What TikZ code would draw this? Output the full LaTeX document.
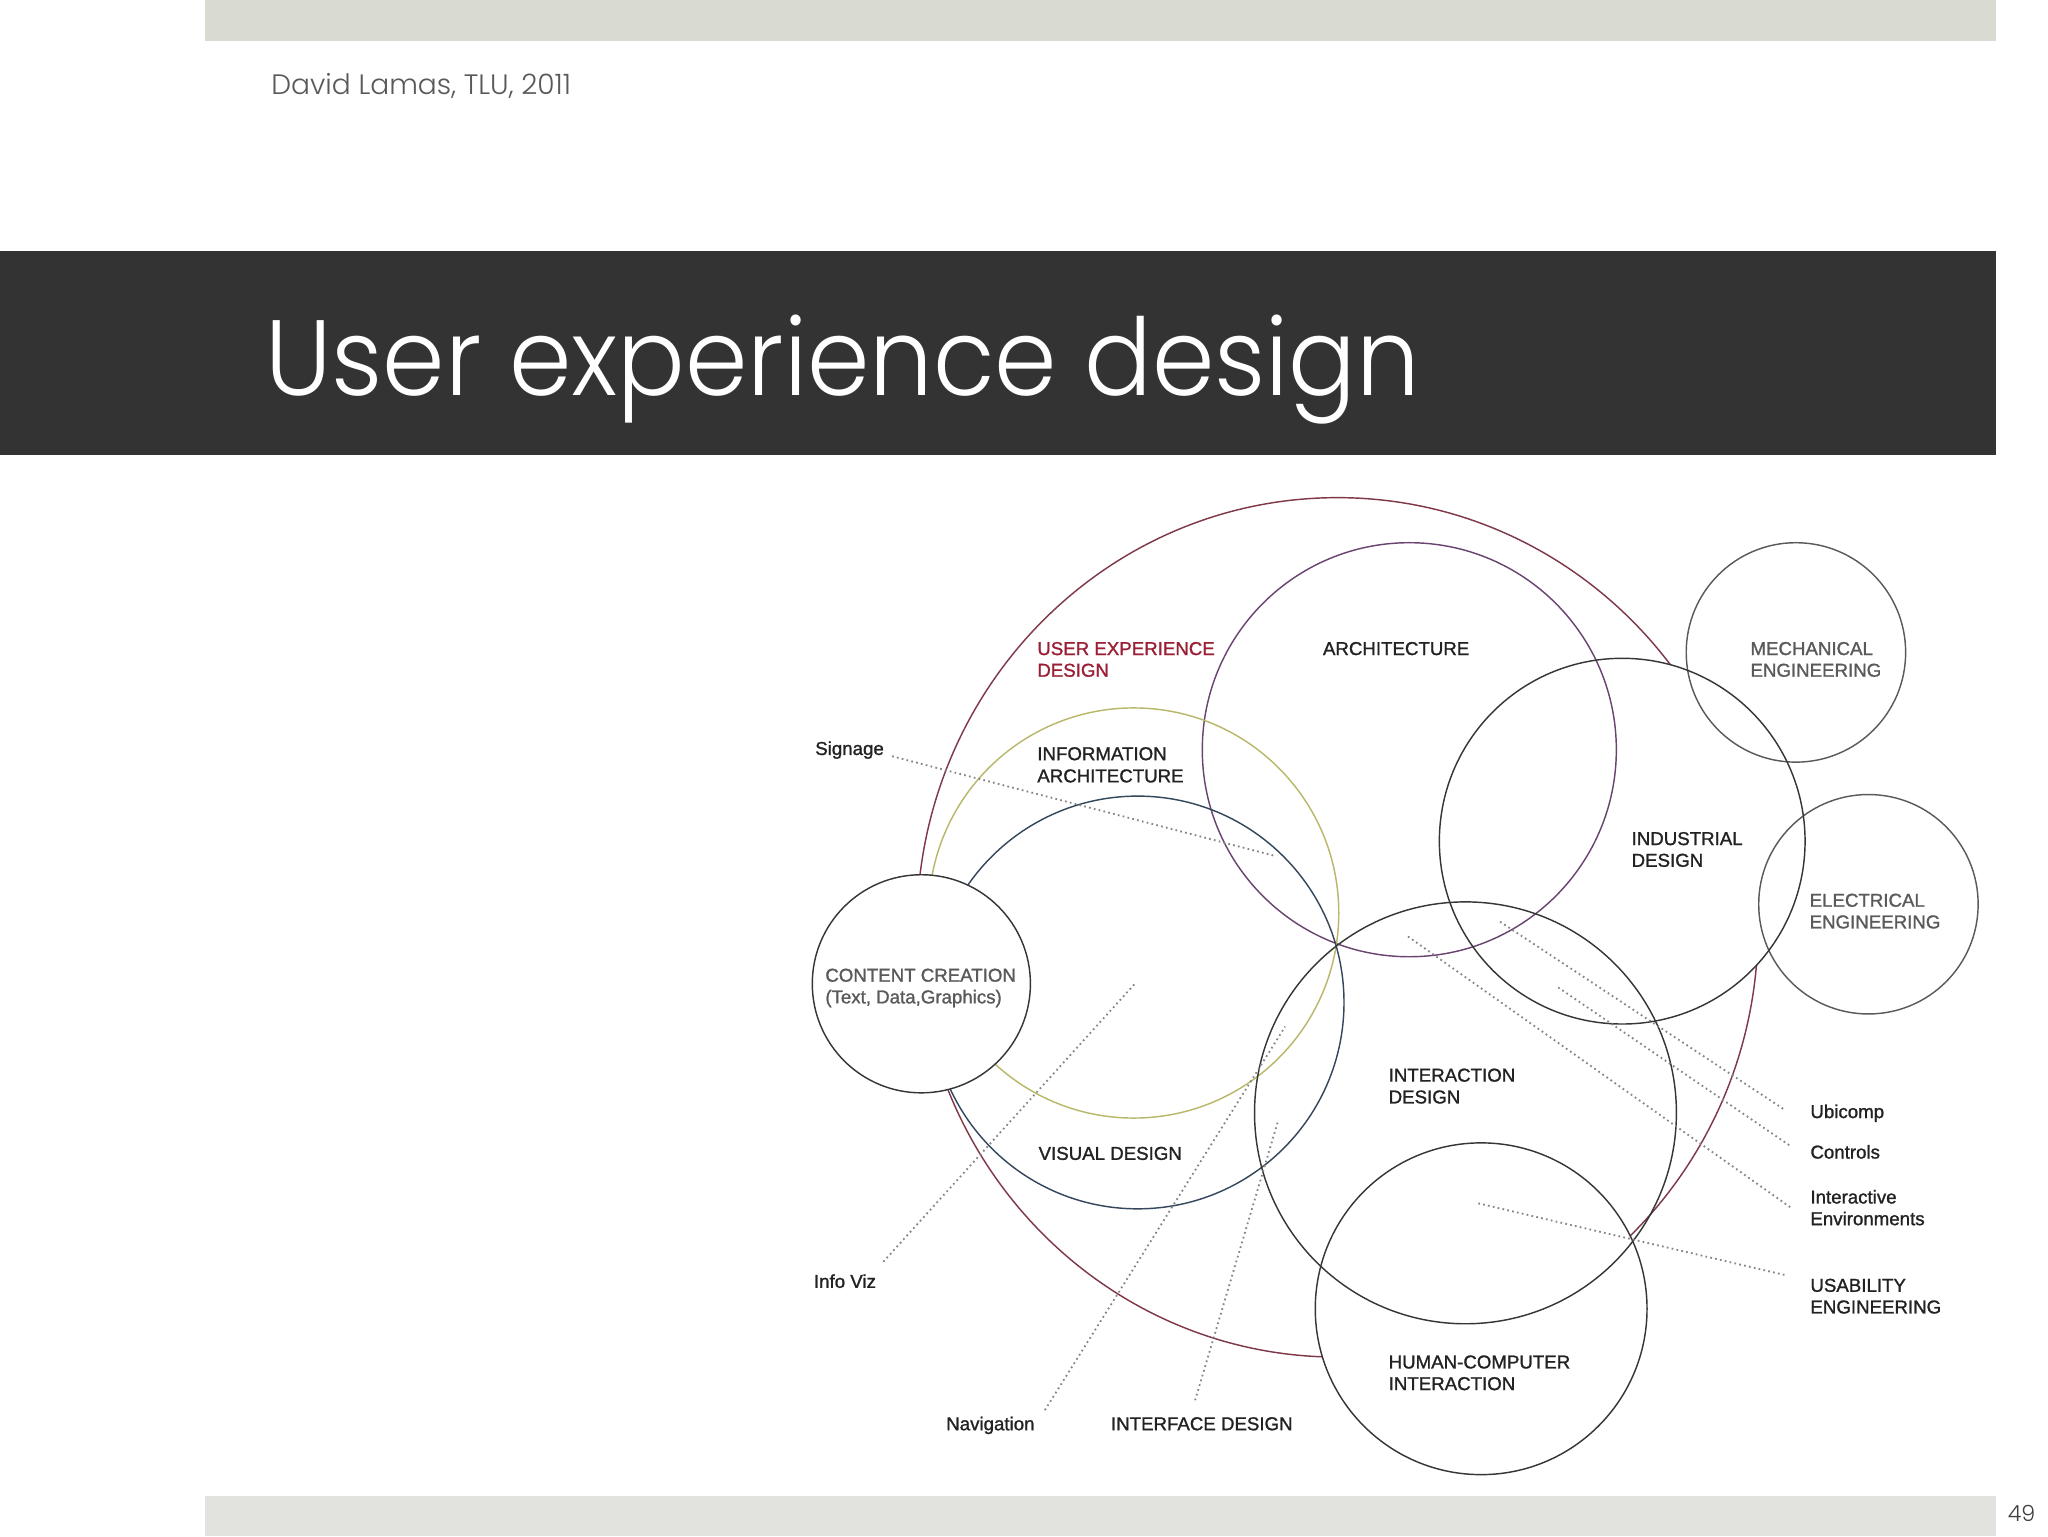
\documentclass[tikz,border=0pt]{standalone}
\usepackage{fontspec}
\setmainfont{Liberation Sans}
\newfontfamily\slidefont{Poppins}[UprightFont={* Light}]
\newfontfamily\labfont{Liberation Sans}[FakeBold=1.2]
\definecolor{topbar}{HTML}{D9DBD3}
\definecolor{botbar}{HTML}{E2E3DF}
\definecolor{band}{HTML}{333333}
\definecolor{uxred}{HTML}{7E3847}
\definecolor{archc}{HTML}{6A4470}
\definecolor{iac}{HTML}{B9B86A}
\definecolor{vdc}{HTML}{34475C}
\definecolor{ink}{HTML}{363636}
\definecolor{engc}{HTML}{5A5A5A}
\definecolor{uxtext}{HTML}{9A1F35}
\definecolor{txt}{HTML}{222222}
\begin{document}
\begin{tikzpicture}[x=1pt,y=-1pt,
  ring/.style={circle, draw=#1, line width=1.1pt, inner sep=0pt, outer sep=0pt},
  blank/.style={circle, fill=white, inner sep=0pt, outer sep=0pt},
  lbl/.style={anchor=base west, inner sep=0pt, text=txt, font=\labfont\fontsize{14.3}{16}\selectfont},
  englbl/.style={lbl, text=engc},
  leader/.style={draw=black!48, line width=1.4pt, dash pattern=on 1.3pt off 2.5pt}]
% page
\fill[white] (0,0) rectangle (1568,1176);
\useasboundingbox (0,0) rectangle (1568,1176);
\fill[topbar] (157,0) rectangle (1528,31.2);
\node[anchor=base west, inner sep=0pt, text=black!65, font=\slidefont\fontsize{21.5}{24}\selectfont] (author) at (207.5,72.2) {David Lamas, TLU, 2011};
\fill[band] (0,192.2) rectangle (1528,348.4);
\node[anchor=base west, inner sep=0pt, text=white, font=\slidefont\fontsize{82}{90}\selectfont] (title) at (203,303) {\scalebox{0.937}[1]{User experience design}};
\fill[botbar] (157,1145.5) rectangle (1528,1176);
\node[anchor=base west, inner sep=0pt, text=black!75, font=\slidefont\fontsize{17}{20}\selectfont] (pnum) at (1537,1165) {49};
% big user experience circle
\draw[uxred, line width=1.1pt] (1024,710) ellipse [x radius=322pt, y radius=329pt];
% opaque discs
\node[blank, minimum size=280pt] (indfill) at (1242,644) {};
\node[blank, minimum size=254pt] (hcifill) at (1134,1002) {};
% circles
\node[ring=archc, minimum size=317pt] (archc) at (1079,574) {};
\node[ring=iac, minimum size=314pt] (iacirc) at (868,699) {};
\node[ring=vdc, minimum size=316pt] (vdcirc) at (871,767.5) {};
\node[ring=engc, minimum size=168pt] (mechc) at (1375,499.5) {};
\node[ring=engc, minimum size=168pt] (elecc) at (1430.5,692.3) {};
\node[ring=ink, minimum size=280pt] (indc) at (1242,644) {};
\node[ring=ink, minimum size=323pt] (ixdc) at (1122,852) {};
\node[ring=ink, minimum size=254pt] (hcic) at (1134,1002) {};
\node[ring=ink, fill=white, minimum size=167pt] (ccc) at (705.4,753.2) {};
% leader end points
\coordinate (sigA) at (683,579);   \coordinate (sigB) at (975,655);
\coordinate (ivA) at (676.3,966);  \coordinate (ivB) at (869,753);
\coordinate (navA) at (800,1079.6); \coordinate (navB) at (983.9,786);
\coordinate (ifdA) at (915,1072);  \coordinate (ifdB) at (978.7,857.6);
\coordinate (ubA) at (1148.5,705.7); \coordinate (ubB) at (1366.7,849.9);
\coordinate (ctA) at (1193,756);   \coordinate (ctB) at (1371.7,878);
\coordinate (ieA) at (1078,717);   \coordinate (ieB) at (1371.7,925);
\coordinate (usA) at (1131.8,921.3); \coordinate (usB) at (1366.7,976.2);
\draw[leader] (sigA) -- (sigB);
\draw[leader] (ivA) -- (ivB);
\draw[leader] (navA) -- (navB);
\draw[leader] (ifdA) -- (ifdB);
\draw[leader] (ubA) -- (ubB);
\draw[leader] (ctA) -- (ctB);
\draw[leader] (ieA) -- (ieB);
\draw[leader] (usA) -- (usB);
% labels
\node[lbl, text=uxtext] (ux1) at (794,501.5) {USER EXPERIENCE};
\node[lbl, text=uxtext] (ux2) at (794,518.1) {DESIGN};
\node[lbl] (arch) at (1012.7,501.5) {ARCHITECTURE};
\node[englbl] (mech1) at (1340,501.5) {MECHANICAL};
\node[englbl] (mech2) at (1340,518.1) {ENGINEERING};
\node[lbl] (sign) at (624,578) {Signage};
\node[lbl] (ia1) at (794,582) {INFORMATION};
\node[lbl] (ia2) at (794,599) {ARCHITECTURE};
\node[lbl] (ind1) at (1249,647) {INDUSTRIAL};
\node[lbl] (ind2) at (1249,663.6) {DESIGN};
\node[englbl] (elec1) at (1385.3,694.2) {ELECTRICAL};
\node[englbl] (elec2) at (1385.3,710.8) {ENGINEERING};
\node[englbl] (cc1) at (631.7,751.6) {CONTENT CREATION};
\node[englbl] (cc2) at (631.7,768.2) {(Text, Data,Graphics)};
\node[lbl] (ixd1) at (1063,828.1) {INTERACTION};
\node[lbl] (ixd2) at (1063,844.8) {DESIGN};
\node[lbl] (ubi) at (1385.9,856) {Ubicomp};
\node[lbl] (vd) at (795,888) {VISUAL DESIGN};
\node[lbl] (ctrl) at (1385.9,887) {Controls};
\node[lbl] (ie1) at (1385.9,921.4) {Interactive};
\node[lbl] (ie2) at (1385.9,938) {Environments};
\node[lbl] (iviz) at (623,986) {Info Viz};
\node[lbl] (us1) at (1385.9,989) {USABILITY};
\node[lbl] (us2) at (1385.9,1005.6) {ENGINEERING};
\node[lbl] (hci1) at (1063,1047.7) {HUMAN-COMPUTER};
\node[lbl] (hci2) at (1063,1064.3) {INTERACTION};
\node[lbl] (nav) at (724.3,1095) {Navigation};
\node[lbl] (ifd) at (850.4,1095) {INTERFACE DESIGN};
\end{tikzpicture}
\end{document}
